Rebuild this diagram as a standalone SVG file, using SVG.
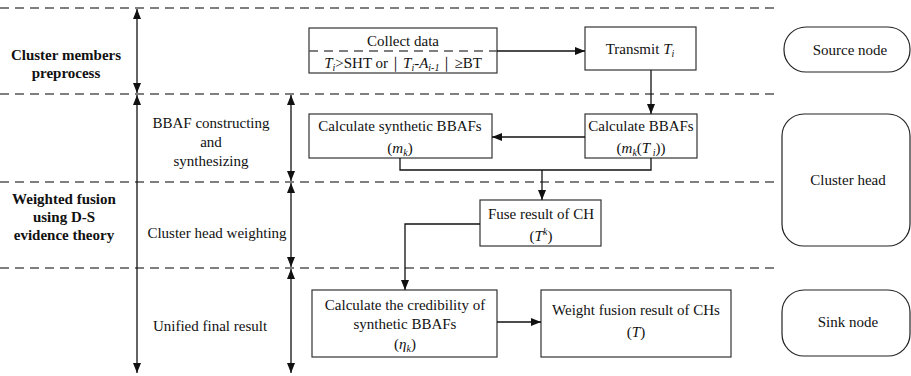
<svg xmlns="http://www.w3.org/2000/svg" width="911" height="376" viewBox="0 0 911 376" font-family="Liberation Serif, Tinos, Times New Roman, serif">
<style>
text{font-size:15px;fill:#111;text-anchor:middle}
.b{font-weight:bold}
.i{font-style:italic}
.box{fill:#fff;stroke:#333;stroke-width:1.2}
.rnd{fill:#fff;stroke:#222;stroke-width:1.2}
.dash{stroke:#555;stroke-width:1.3;stroke-dasharray:9,6;fill:none}
.ln{stroke:#111;stroke-width:1.3;fill:none}
.arr{marker-end:url(#ah)}
.dbl{marker-start:url(#ahs);marker-end:url(#ah)}
</style>
<defs>
<marker id="ah" viewBox="0 0 10 8" refX="10" refY="4" markerWidth="10" markerHeight="8" markerUnits="userSpaceOnUse" orient="auto"><path d="M0,0L10,4L0,8z" fill="#111"/></marker>
<marker id="ahs" viewBox="0 0 10 8" refX="0" refY="4" markerWidth="10" markerHeight="8" markerUnits="userSpaceOnUse" orient="auto"><path d="M10,0L0,4L10,8z" fill="#111"/></marker>
</defs>
<g id="lanes">
<line class="dash" x1="0" y1="8" x2="776" y2="8"/>
<line class="dash" x1="0" y1="94" x2="776" y2="94"/>
<line class="dash" x1="0" y1="182" x2="776" y2="182"/>
<line class="dash" x1="0" y1="268" x2="776" y2="268"/>
<text class="b" x="66" y="60">Cluster members</text>
<text class="b" x="66" y="78">preprocess</text>
<text class="b" x="64" y="204">Weighted fusion</text>
<text class="b" x="64" y="222">using D-S</text>
<text class="b" x="64" y="240">evidence theory</text>
<text x="211" y="128">BBAF constructing</text>
<text x="211" y="147">and</text>
<text x="211" y="166">synthesizing</text>
<text x="217" y="238">Cluster head weighting</text>
<text x="210" y="331">Unified final result</text>
</g>
<g id="collect">
<rect class="box" x="309" y="28" width="188" height="45"/>
<line class="dash" x1="309" y1="51" x2="497" y2="51" stroke-dasharray="8,4"/>
<text x="403" y="46">Collect data</text>
<text x="403" y="68"><tspan class="i">T</tspan><tspan class="i" font-size="10" dy="3">i</tspan><tspan dy="-3">&gt;SHT or｜</tspan><tspan class="i">T</tspan><tspan class="i" font-size="10" dy="3">i</tspan><tspan dy="-3" class="i">-A</tspan><tspan class="i" font-size="10" dy="3">i-1</tspan><tspan dy="-3">｜≥BT</tspan></text>
</g>
<g id="transmit">
<rect class="box" x="585" y="27" width="111" height="43"/>
<text x="640" y="54">Transmit <tspan class="i">T</tspan><tspan class="i" font-size="10" dy="3">i</tspan></text>
</g>
<g id="calcbbaf">
<rect class="box" x="585" y="114" width="112" height="44"/>
<text x="641" y="131">Calculate BBAFs</text>
<text x="641" y="153">(<tspan class="i">m</tspan><tspan class="i" font-size="10" dy="3">k</tspan><tspan dy="-3">(</tspan><tspan class="i">T</tspan><tspan class="i" font-size="10" dy="3"> i</tspan><tspan dy="-3">))</tspan></text>
</g>
<g id="synth">
<rect class="box" x="309" y="114" width="183" height="44"/>
<text x="400" y="131">Calculate synthetic BBAFs</text>
<text x="400" y="153">(<tspan class="i">m</tspan><tspan class="i" font-size="10" dy="3">k</tspan><tspan dy="-3">)</tspan></text>
</g>
<g id="fuse">
<rect class="box" x="480" y="200" width="121" height="46"/>
<text x="541" y="219">Fuse result of CH</text>
<text x="541" y="241">(<tspan class="i">T</tspan><tspan class="i" font-size="10" dy="-6">k</tspan><tspan dy="6">)</tspan></text>
</g>
<g id="cred">
<rect class="box" x="312" y="290" width="185" height="67"/>
<text x="405" y="310">Calculate the credibility of</text>
<text x="405" y="329">synthetic BBAFs</text>
<text x="405" y="349">(<tspan class="i">η</tspan><tspan class="i" font-size="10" dy="3">k</tspan><tspan dy="-3">)</tspan></text>
</g>
<g id="weight">
<rect class="box" x="541" y="290" width="190" height="67"/>
<text x="636" y="315">Weight fusion result of CHs</text>
<text x="636" y="337">(<tspan class="i">T</tspan>)</text>
</g>
<g id="source">
<rect class="rnd" x="784" y="27" width="126" height="45" rx="22" ry="22"/>
<text x="850" y="55">Source node</text>
</g>
<g id="clusterhead">
<rect class="rnd" x="782" y="114" width="128" height="132" rx="22" ry="22"/>
<text x="848" y="185">Cluster head</text>
</g>
<g id="sink">
<rect class="rnd" x="782" y="290" width="128" height="66" rx="22" ry="22"/>
<text x="848" y="327">Sink node</text>
</g>
<g id="connectors">
<line class="ln dbl" x1="137" y1="9" x2="137" y2="93"/>
<line class="ln dbl" x1="137" y1="95" x2="137" y2="373"/>
<line class="ln dbl" x1="291" y1="95" x2="291" y2="181"/>
<line class="ln dbl" x1="291" y1="183" x2="291" y2="267"/>
<line class="ln dbl" x1="291" y1="269" x2="291" y2="373"/>
<line class="ln arr" x1="497" y1="51" x2="585" y2="51"/>
<line class="ln arr" x1="651" y1="70" x2="651" y2="114"/>
<line class="ln arr" x1="585" y1="137" x2="492" y2="137"/>
<polyline class="ln" points="400,158 400,170 651,170 651,158"/>
<line class="ln arr" x1="542" y1="170" x2="542" y2="200"/>
<polyline class="ln arr" points="480,224 405,224 405,290"/>
<line class="ln arr" x1="497" y1="322" x2="541" y2="322"/>
</g>
</svg>
